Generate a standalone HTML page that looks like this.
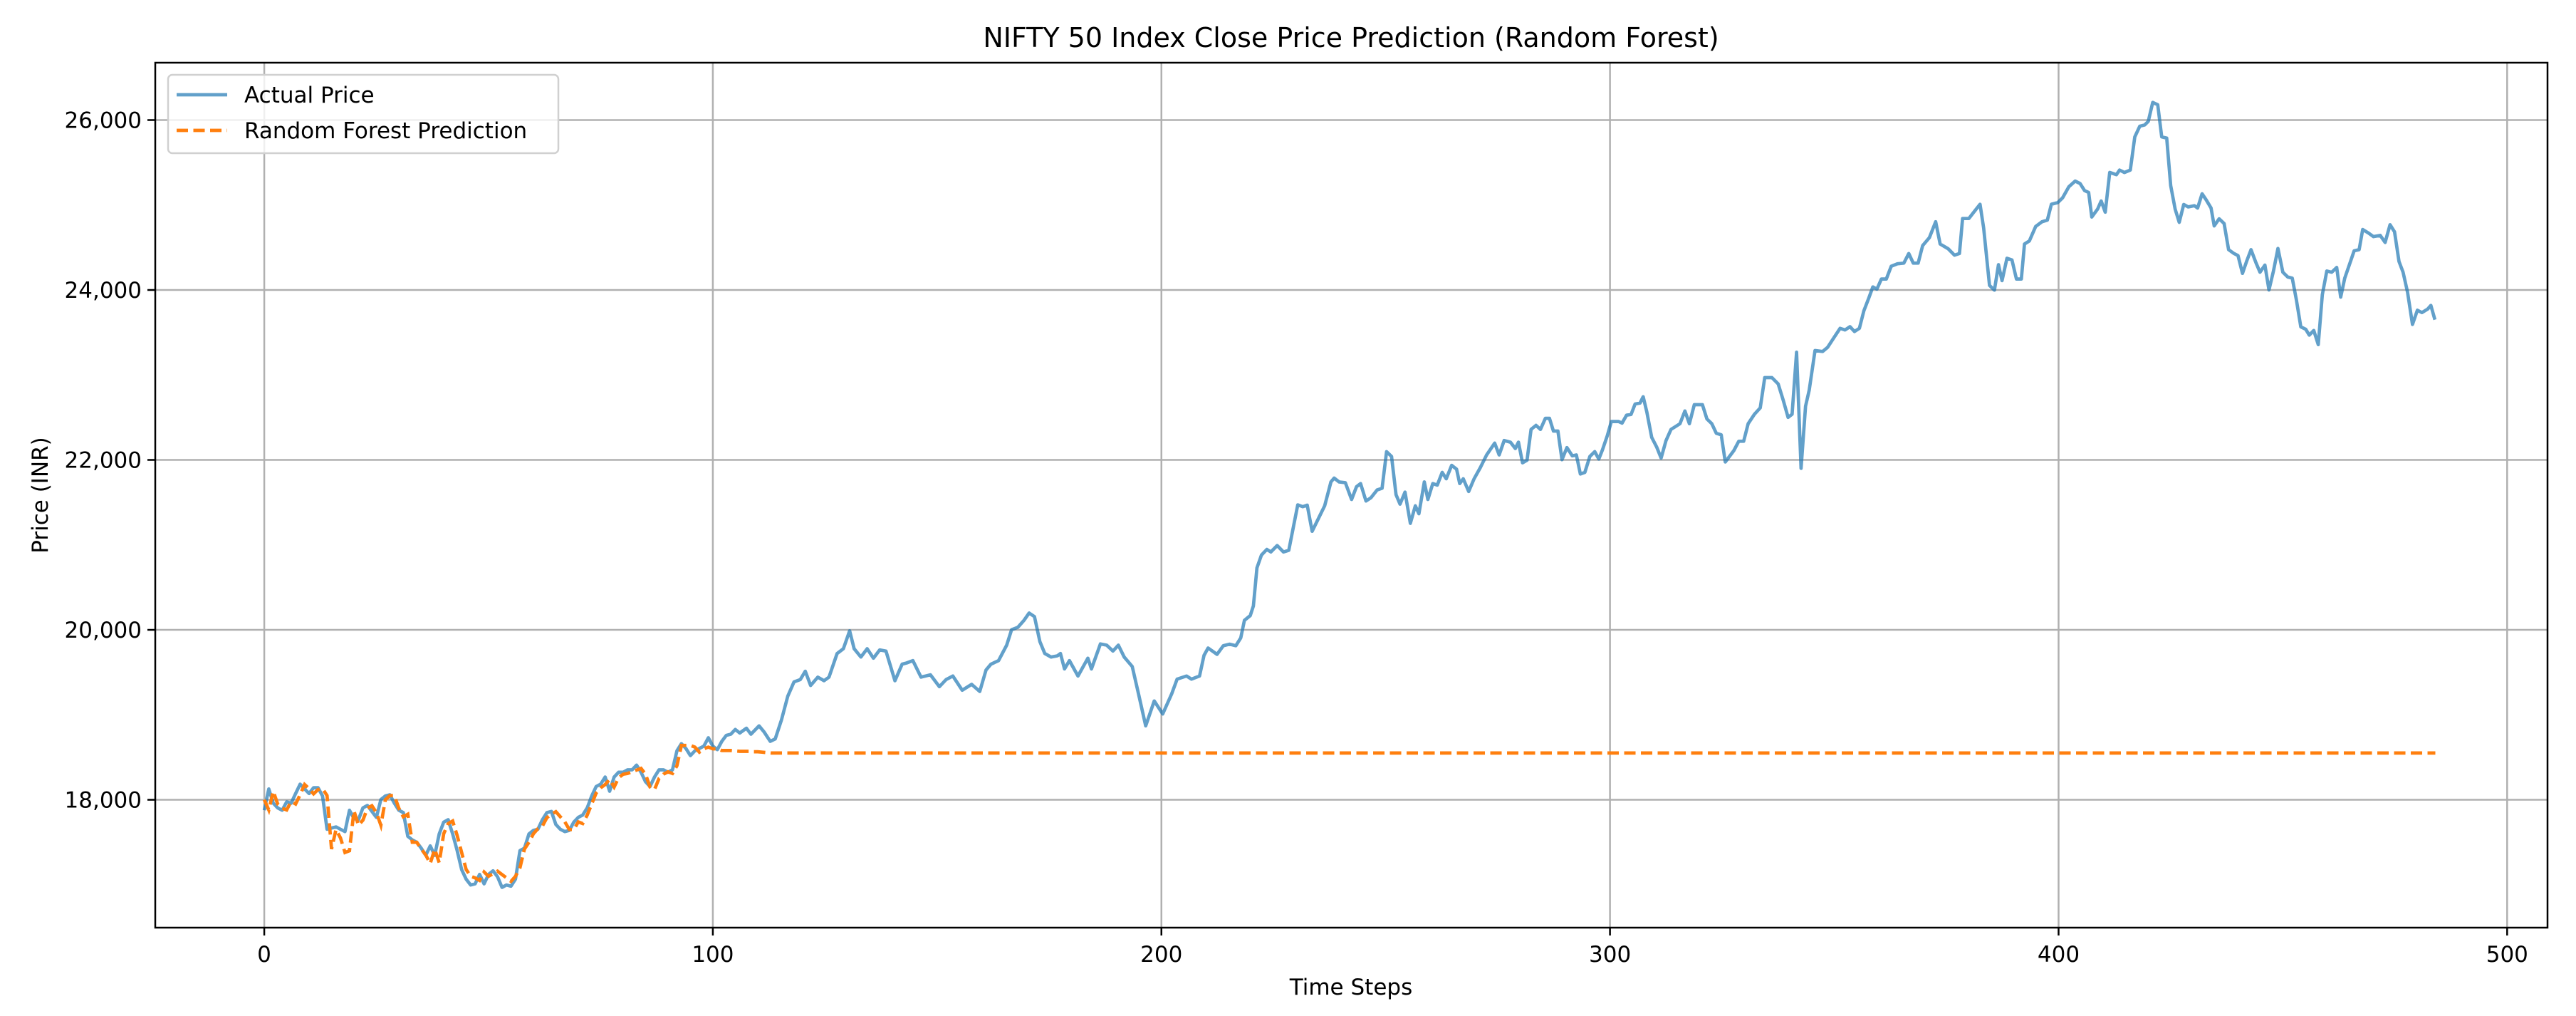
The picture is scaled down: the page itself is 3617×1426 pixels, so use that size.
<!DOCTYPE html>
<html><head><meta charset="utf-8"><style>
html,body{margin:0;padding:0;background:#fff;}
svg{display:block;font-family:"DejaVu Sans","Liberation Sans",sans-serif;}
</style></head><body>
<svg id="chart" width="3617" height="1426" viewBox="0 0 3617 1426" xmlns="http://www.w3.org/2000/svg">
<rect width="3617" height="1426" fill="#fff"/>
<g id="grid"></g>
<g id="series"></g>
<g id="axes"></g>
<text x="1897" y="66" font-size="38" text-anchor="middle" fill="#000">NIFTY 50 Index Close Price Prediction (Random Forest)</text>
<text x="1897" y="1396" font-size="31" text-anchor="middle" fill="#000">Time Steps</text>
<text x="0" y="0" font-size="31" text-anchor="middle" fill="#000" transform="translate(67,695) rotate(-90)">Price (INR)</text>
<g>
<rect x="236" y="105" width="548" height="110" rx="6" fill="#fff" fill-opacity="0.8" stroke="#d0d0d0" stroke-width="2.5"/>
<line x1="248" y1="133" x2="319" y2="133" stroke="#1f77b4" stroke-opacity="0.7" stroke-width="4.7"/>
<text x="343" y="144" font-size="31" fill="#000">Actual Price</text>
<line x1="248" y1="183" x2="319" y2="183" stroke="#ff7f0e" stroke-width="4.7" stroke-dasharray="16 7.5"/>
<text x="343" y="194" font-size="31" fill="#000">Random Forest Prediction</text>
</g>
</svg>
<script>
const xTicks = [0, 100, 200, 300, 400, 500];
const yTicks = [18000, 20000, 22000, 24000, 26000];
const yTickLabels = ["18,000", "20,000", "22,000", "24,000", "26,000"];
const actualSteps = [0,1,2,3,4,5,6,7,8,9,10,11,12,13,14,15,16,17,18,19,20,21,22,23,24,25,26,27,28,29,30,31,32,33,34,35,36,37,38,39,40,41,42,43,44,45,46,47,48,49,50,51,52,53,54,55,56,57,58,59,60,61,62,63,64,65,66,67,68,69,70,71,72,73,74,75,76,77,78,79,80,81,82,83,84,85,86,87,88,89,90,91,92,93,94,95,96,97,98,99,100,101,102,103,104,105,106,
107.5,108.5,110.3,111.4,112.8,113.9,115.3,116.7,118.1,119.5,120.6,121.8,123.4,124.8,125.9,127.7,129.1,130.5,131.5,133,134.4,135.8,137.2,138.6,140.6,142.2,143.2,144.6,146.4,148.5,150.5,152,153.5,155.6,157.7,159.5,160.9,162,163.7,165.5,166.6,168,169.4,170.5,171.7,172.9,174,175.4,176.8,177.5,178.4,179.5,181.4,183.6,184.4,186.4,187.8,189.2,190.4,191.7,193.5,194.9,196.5,198.4,200.3,202.3,
203.5,205.6,206.7,208.5,209.5,210.4,212.4,213.8,215.2,216.6,217.7,218.5,219.8,220.5,221.3,222.3,223.5,224.4,225.8,227.2,228.4,230.4,231.5,232.5,233.6,235,236.4,237.8,238.5,239.6,241,242.4,243.5,244.4,245.6,246.7,248.1,249.2,250.2,251.3,252.3,253.2,254.3,255.5,256.6,257.4,258.6,259.4,260.5,261.5,262.6,263.5,264.7,265.8,266.5,267.3,268.5,269.7,271.1,272.5,274.3,275.3,276.4,277.8,278.9,279.6,280.5,281.5,282.4,283.5,284.5,285.6,286.5,287.4,288.4,289.3,290.4,291.6,292.5,293.4,294.4,295.5,296.6,297.5,298.3,299.4,300.3,301.9,302.7,303.7,304.7,305.6,306.7,307.4,308.2,309.3,310.4,311.4,312.5,313.6,
315.6,316.7,317.7,318.8,320.6,321.6,322.7,323.7,324.8,325.7,327.6,328.7,329.8,330.8,332.2,333.5,334.5,336.1,337.5,338.6,339.7,340.6,341.6,342.6,343.6,344.4,345.7,347.4,348.5,349.9,351.3,352.4,353.5,354.5,355.6,356.6,357.7,358.6,359.5,360.5,361.6,362.7,364.1,365.5,366.6,367.6,368.7,369.7,371.2,372.6,373.6,375.4,376.8,377.9,378.6,380,381.1,382.5,383.3,384.6,385.7,386.6,387.4,388.5,389.6,390.6,391.7,392.4,393.5,394.9,396.3,397.5,398.4,399.8,400.9,402.3,403.7,404.8,405.8,406.7,407.4,408.7,409.5,410.4,411.4,412.9,
413.6,414.7,416,417,418.1,419.2,420,421,422.1,423,424.1,425,426,426.9,427.9,428.9,430.3,431,432,432.9,434,434.7,435.8,436.9,437.9,439,440,441,441.9,442.9,444,444.9,446,446.9,447.9,448.9,450,451.1,452.1,453,454,455.1,455.9,456.9,457.9,458.8,459.8,460.9,462,462.9,463.8,464.9,465.9,467,467.8,469.1,470.2,471.7,472.8,473.9,474.9,475.9,476.8,477.8,478.9,480,481,482.3,483,483.9];
const actualValues = [17877,18128,17960,17905,17877,17975,17960,18073,18184,18128,18073,18142,18142,18045,17653,17667,17681,17653,17625,17877,17780,17765,17905,17933,17863,17793,18003,18045,18059,17960,17877,17849,17570,17528,17500,17430,17346,17458,17346,17598,17737,17765,17598,17402,17178,17066,16997,17011,17122,17011,17122,17164,17094,16969,16997,16983,17066,17402,17430,17598,17640,17653,17765,17849,17863,17709,17653,17625,17640,17737,17793,17821,17905,18045,18156,18184,18268,18101,18268,18324,18324,18352,18352,18408,18324,18212,18156,18268,18352,18352,18324,18352,18576,18660,18604,18520,18576,18604,18632,18730,18632,18590,18688,18758,18772,18828,18786,
18842,18772,18870,18800,18688,18716,18940,19219,19387,19415,19513,19345,19443,19401,19443,19722,19778,19988,19778,19680,19778,19666,19764,19750,19401,19596,19610,19638,19443,19471,19331,19415,19457,19289,19359,19275,19527,19596,19638,19820,20002,20030,20114,20198,20156,19862,19722,19680,19694,19722,19540,19638,19457,19666,19540,19834,19820,19750,19820,19680,19568,19247,18870,19163,19010,19247,
19420,19457,19420,19457,19700,19786,19712,19813,19832,19813,19906,20112,20168,20281,20730,20880,20947,20917,20992,20917,20936,21471,21449,21468,21160,21310,21460,21741,21786,21741,21733,21535,21685,21722,21516,21554,21647,21666,22097,22040,21591,21479,21621,21254,21460,21366,21741,21535,21722,21703,21853,21778,21936,21891,21722,21778,21629,21778,21910,22059,22198,22059,22228,22209,22134,22209,21966,21996,22359,22407,22359,22490,22490,22340,22340,22003,22145,22048,22059,21834,21853,22040,22097,22010,22115,22284,22452,22452,22434,22527,22535,22658,22669,22744,22565,22265,22153,22022,22228,22359,
22426,22576,22426,22650,22650,22482,22426,22314,22295,21976,22108,22220,22220,22426,22538,22613,22969,22969,22894,22707,22501,22538,23268,21901,22632,22819,23287,23276,23324,23437,23549,23530,23568,23511,23549,23755,23905,24036,24010,24129,24129,24279,24309,24316,24429,24316,24316,24522,24616,24803,24541,24485,24410,24429,24841,24841,24916,25009,24728,24054,23998,24298,24110,24373,24354,24129,24129,24541,24578,24747,24803,24822,25009,25028,25084,25215,25282,25253,25170,25148,24859,24953,25047,24916,25384,25357,
25411,25383,25411,25802,25928,25942,25984,26208,26180,25802,25788,25229,24950,24796,25006,24978,24992,24964,25132,25062,24964,24754,24838,24782,24475,24433,24405,24195,24335,24475,24321,24209,24293,24000,24223,24489,24209,24153,24139,23888,23566,23538,23468,23524,23357,23944,24223,24209,24265,23916,24139,24307,24461,24475,24712,24670,24628,24642,24559,24768,24684,24335,24209,23972,23594,23762,23734,23776,23818,23650];
const predSteps = [0,1,2,3,4,5,6,7,8,9,10,11,12,13,14,15,16,17,18,19,20,21,22,23,24,25,26,27,28,29,30,31,32,33,34,35,36,37,38,39,40,41,42,43,44,45,46,47,48,49,50,51,52,53,54,55,56,57,58,59,60,61,62,63,64,65,66,67,68,69,70,71,72,73,74,75,76,77,78,79,80,81,82,83,84,85,86,87,88,89,90,91,92,93,94,95,96,97,98,99,100,101,102,103,104,105,106,107,108,109,110,111,112,113,114,484];
const predValues = [18000,17880,18100,17950,17900,17880,17980,17950,18060,18180,18130,18070,18120,18130,18050,17420,17650,17550,17380,17400,17870,17700,17760,17900,17930,17850,17700,18000,18050,18050,17900,17800,17830,17500,17500,17420,17350,17250,17420,17260,17600,17720,17750,17580,17380,17180,17100,17080,17050,17150,17100,17130,17160,17120,17080,17040,17100,17200,17420,17500,17600,17660,17690,17790,17830,17860,17800,17740,17650,17650,17740,17720,17820,17950,18080,18140,18180,18240,18150,18260,18300,18310,18330,18350,18370,18300,18150,18120,18250,18300,18330,18310,18400,18640,18640,18640,18620,18560,18600,18620,18600,18600,18580,18580,18580,18575,18570,18570,18570,18565,18565,18560,18555,18550,18550,18550];

const AX = {left:218, right:3577, top:88, bottom:1302};
const XMIN = -24.3, XMAX = 509.0, YMIN = 16495, YMAX = 26675;
function xs(v){ return AX.left + (v - XMIN) / (XMAX - XMIN) * (AX.right - AX.left); }
function ys(v){ return AX.bottom - (v - YMIN) / (YMAX - YMIN) * (AX.bottom - AX.top); }
const NS = "http://www.w3.org/2000/svg";
function mk(tag, attrs, parent){
  const e = document.createElementNS(NS, tag);
  for (const k in attrs) e.setAttribute(k, attrs[k]);
  parent.appendChild(e);
  return e;
}
const grid = document.getElementById('grid');
const axes = document.getElementById('axes');
const series = document.getElementById('series');

xTicks.forEach(t => {
  const x = xs(t);
  const g = mk('line', {x1:x, y1:AX.top, x2:x, y2:AX.bottom, stroke:'#b0b0b0', 'stroke-width':2.5}, grid);
  
  
  const tk = mk('line', {x1:x, y1:AX.bottom, x2:x, y2:AX.bottom+11, stroke:'#000', 'stroke-width':2.5}, axes);
  
  
  const lb = mk('text', {x:x, y:AX.bottom+48, 'font-size':31, 'text-anchor':'middle', fill:'#000'}, axes);
  lb.textContent = String(t);
  
  
});
yTicks.forEach((t, i) => {
  const y = ys(t);
  const g = mk('line', {x1:AX.left, y1:y, x2:AX.right, y2:y, stroke:'#b0b0b0', 'stroke-width':2.5}, grid);
  
  
  const tk = mk('line', {x1:AX.left-11, y1:y, x2:AX.left, y2:y, stroke:'#000', 'stroke-width':2.5}, axes);
  
  
  const lb = mk('text', {x:AX.left-19, y:y+11, 'font-size':31, 'text-anchor':'end', fill:'#000'}, axes);
  lb.textContent = yTickLabels[i];
  
  
});
const frame = mk('rect', {x:AX.left, y:AX.top, width:AX.right-AX.left, height:AX.bottom-AX.top, fill:'none', stroke:'#000', 'stroke-width':2.5}, axes);



const aPts = actualSteps.map((s, i) => xs(s).toFixed(1) + ',' + ys(actualValues[i]).toFixed(1)).join(' ');
const aLine = mk('polyline', {points:aPts, fill:'none', stroke:'#1f77b4', 'stroke-opacity':0.7, 'stroke-width':4.7, 'stroke-linejoin':'round'}, series);



const pPts = predSteps.map((s, i) => xs(s).toFixed(1) + ',' + ys(predValues[i]).toFixed(1)).join(' ');
const pLine = mk('polyline', {points:pPts, fill:'none', stroke:'#ff7f0e', 'stroke-width':4.7, 'stroke-dasharray':'16 7.5'}, series);


</script>
</body></html>
